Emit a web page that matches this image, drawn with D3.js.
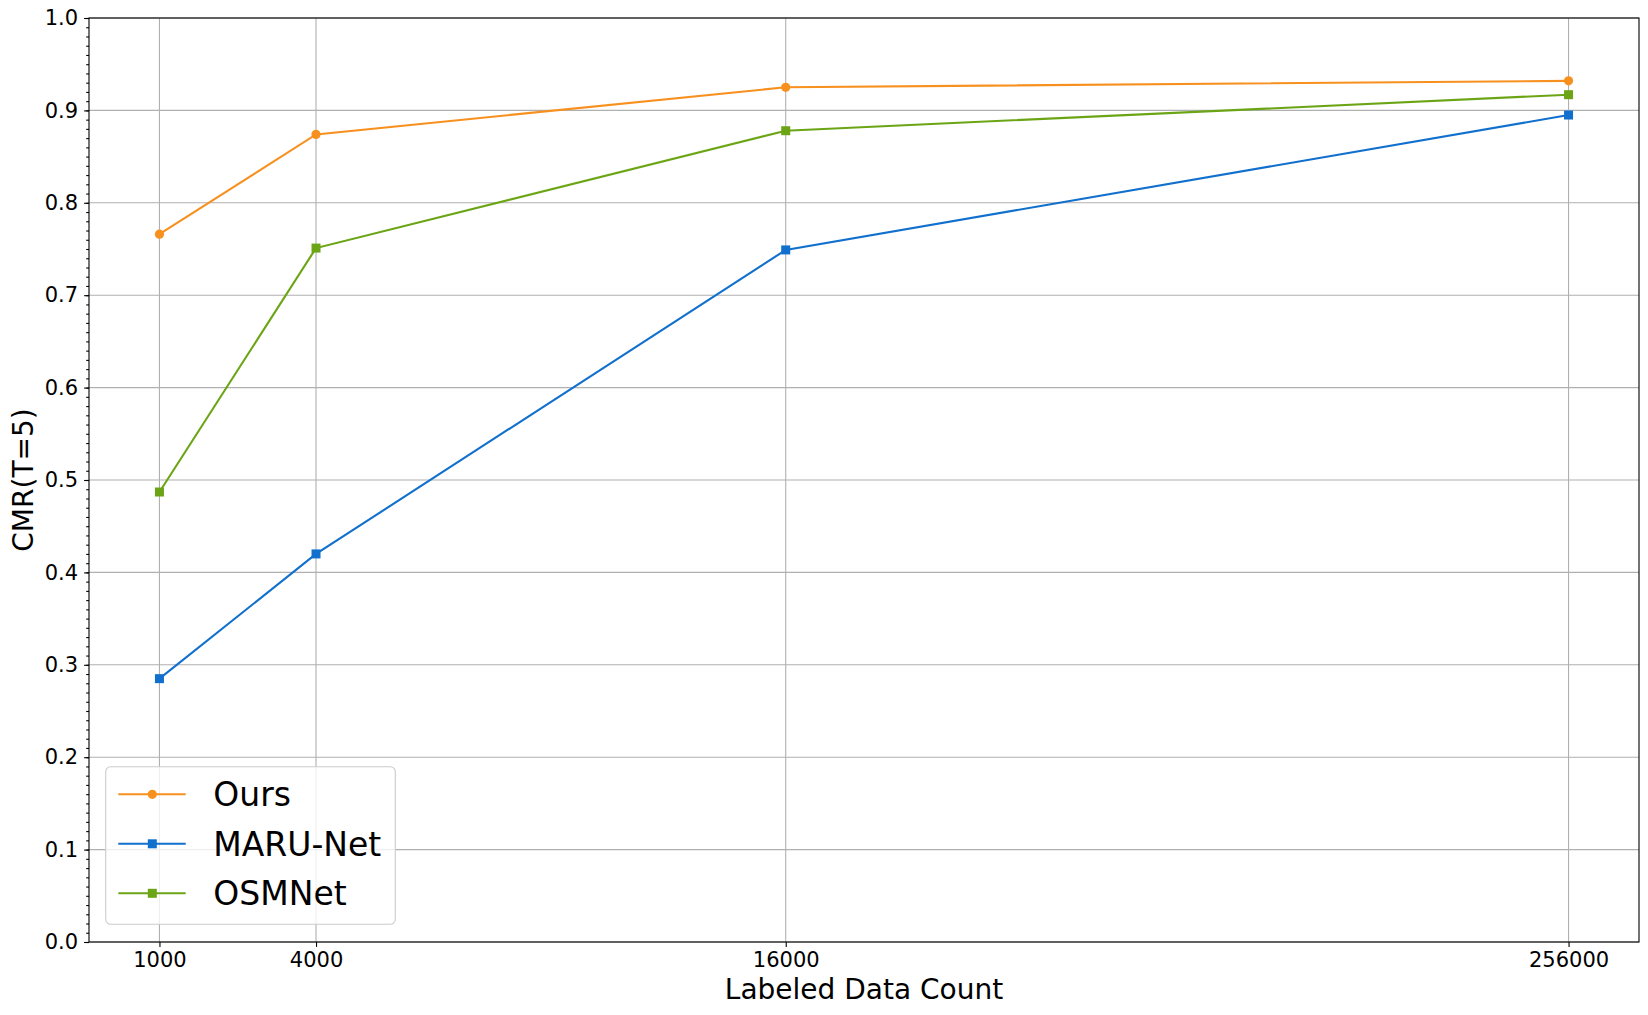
<!DOCTYPE html>
<html>
<head>
<meta charset="utf-8">
<script src="https://cdn.jsdelivr.net/npm/d3@7"></script>
<style>
  body { margin: 0; background: #fff; }
  svg { display: block; font-family: "DejaVu Sans", sans-serif; }
</style>
</head>
<body>
<svg id="chart" width="1648" height="1015"></svg>
<script>
// data
var counts = ["1000", "4000", "16000", "256000"];
var ours = [0.766, 0.874, 0.925, 0.932];
var maruNet = [0.285, 0.420, 0.749, 0.895];
var osmNet = [0.487, 0.751, 0.878, 0.917];
var yTicks = [0, 0.1, 0.2, 0.3, 0.4, 0.5, 0.6, 0.7, 0.8, 0.9, 1.0];
var seriesNames = ["Ours", "MARU-Net", "OSMNet"];

var series = [
	{name: seriesNames[0], values: ours, color: "#f7901e", marker: "circle"},
	{name: seriesNames[1], values: maruNet, color: "#1170cd", marker: "square"},
	{name: seriesNames[2], values: osmNet, color: "#6ba516", marker: "square"}
];

var svg = d3.select("#chart");
var pLeft = 89, pRight = 1639, pTop = 18, pBottom = 942;
var mr = 4.6, ms = 4.5; // marker radius / half side

// x positions grow as index^2 (0,1,4,9) with 5% margins
var x = d3.scalePow().exponent(2)
	.domain([-Math.sqrt(0.45), Math.sqrt(9.45)])
	.range([pLeft, pRight]);
var y = d3.scaleLinear().domain([0, 1]).range([pBottom, pTop]);
var idx = d3.range(counts.length);

// grid
var grid = svg.append("g").attr("stroke", "#b0b0b0").attr("stroke-width", 1.1);
grid.selectAll(".gx").data(idx).enter().append("line")
	.attr("x1", function(d) { return x(d); }).attr("x2", function(d) { return x(d); })
	.attr("y1", pTop).attr("y2", pBottom);
grid.selectAll(".gy").data(yTicks).enter().append("line")
	.attr("x1", pLeft).attr("x2", pRight)
	.attr("y1", function(d) { return y(d); }).attr("y2", function(d) { return y(d); });

// lines and markers
var line = d3.line()
	.x(function(d, i) { return x(i); })
	.y(function(d) { return y(d); });

series.forEach(function(s) {
	svg.append("path")
		.attr("d", line(s.values))
		.attr("fill", "none")
		.attr("stroke", s.color)
		.attr("stroke-width", 2.1);
	var g = svg.append("g").attr("fill", s.color);
	s.values.forEach(function(v, i) {
		if (s.marker == "circle") {
			g.append("circle").attr("cx", x(i)).attr("cy", y(v)).attr("r", mr);
		} else {
			g.append("rect").attr("x", x(i) - ms).attr("y", y(v) - ms)
				.attr("width", 2 * ms).attr("height", 2 * ms);
		}
	});
});

// frame
svg.append("rect")
	.attr("x", pLeft).attr("y", pTop)
	.attr("width", pRight - pLeft).attr("height", pBottom - pTop)
	.attr("fill", "none").attr("stroke", "#000").attr("stroke-width", 1.1);

// axes
var xAxis = svg.append("g")
	.attr("transform", "translate(0," + pBottom + ")")
	.call(d3.axisBottom(x).tickValues(idx)
		.tickFormat(function(i) { return counts[i]; })
		.tickSize(4.9).tickPadding(5.5));
var yAxis = svg.append("g")
	.attr("transform", "translate(" + pLeft + ",0)")
	.call(d3.axisLeft(y).tickValues(yTicks)
		.tickFormat(d3.format(".1f"))
		.tickSize(4.9).tickPadding(6));
var yMinor = svg.append("g")
	.attr("transform", "translate(" + pLeft + ",0)")
	.call(d3.axisLeft(y).tickValues(d3.range(0, 101).map(function(k) { return k / 100; }))
		.tickFormat("").tickSize(2.8));
[xAxis, yAxis, yMinor].forEach(function(a) {
	a.select(".domain").remove();
	a.selectAll(".tick line").attr("stroke", "#000").attr("stroke-width", 1.1);
	a.selectAll(".tick text")
		.attr("fill", "#000")
		.style("font-family", "DejaVu Sans")
		.style("font-size", "21px");
});

// axis titles
svg.append("text")
	.attr("x", (pLeft + pRight) / 2).attr("y", 999)
	.attr("text-anchor", "middle")
	.style("font-size", "28px")
	.text("Labeled Data Count");
svg.append("text")
	.attr("transform", "translate(33," + ((pTop + pBottom) / 2) + ") rotate(-90)")
	.attr("text-anchor", "middle")
	.style("font-size", "28px")
	.text("CMR(T=5)");

// legend
var legend = svg.append("g");
legend.append("rect")
	.attr("x", 105.7).attr("y", 766.7)
	.attr("width", 289.6).attr("height", 157.6)
	.attr("rx", 5).attr("ry", 5)
	.attr("fill", "#fff").attr("fill-opacity", 0.8)
	.attr("stroke", "#cccccc").attr("stroke-width", 1.1);
series.forEach(function(s, i) {
	var cy = 794.3 + i * 49.5;
	legend.append("line")
		.attr("x1", 118.3).attr("x2", 185.7)
		.attr("y1", cy).attr("y2", cy)
		.attr("stroke", s.color).attr("stroke-width", 2.1);
	if (s.marker == "circle") {
		legend.append("circle").attr("cx", 152.3).attr("cy", cy).attr("r", mr).attr("fill", s.color);
	} else {
		legend.append("rect").attr("x", 152.3 - ms).attr("y", cy - ms)
			.attr("width", 2 * ms).attr("height", 2 * ms).attr("fill", s.color);
	}
	legend.append("text")
		.attr("x", 213.3).attr("y", cy + 12)
		.style("font-size", "33px")
		.text(s.name);
});
</script>
</body>
</html>
